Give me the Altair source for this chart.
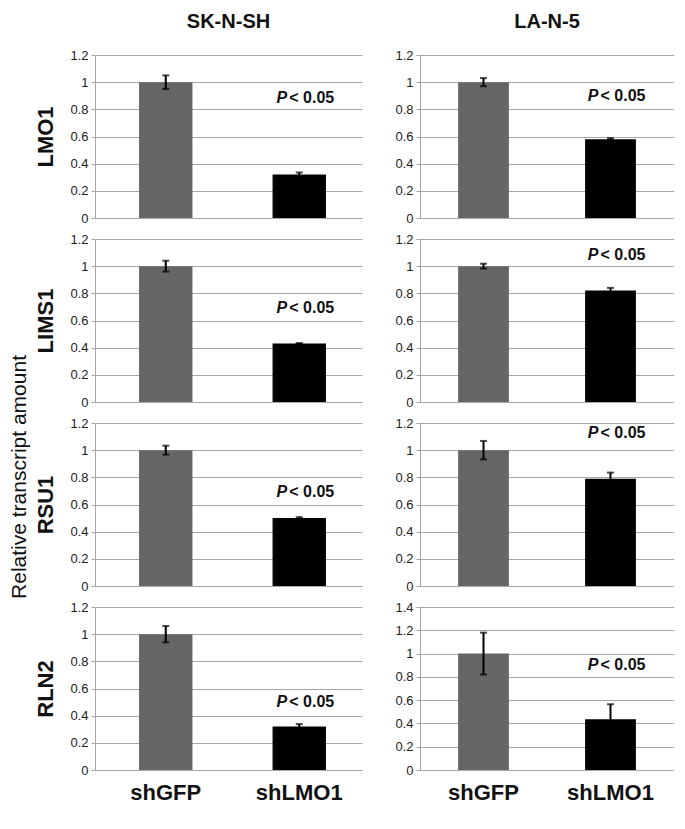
import altair as alt
import pandas as pd

# ---- data ----
genes = ["LMO1", "LIMS1", "RSU1", "RLN2"]
cell_lines = ["SK-N-SH", "LA-N-5"]
conditions = ["shGFP", "shLMO1"]

sk_gfp_mean = [1.0, 1.0, 1.0, 1.0]
sk_gfp_err = [0.05, 0.04, 0.033, 0.06]
sk_lmo_mean = [0.32, 0.43, 0.50, 0.32]
sk_lmo_err = [0.015, 0.004, 0.007, 0.018]

la_gfp_mean = [1.0, 1.0, 1.0, 1.0]
la_gfp_err = [0.03, 0.018, 0.068, 0.18]
la_lmo_mean = [0.58, 0.82, 0.79, 0.435]
la_lmo_err = [0.008, 0.02, 0.045, 0.13]

sk_p_y = [0.88, 0.69, 0.69, 0.50]
la_p_y = [0.90, 1.08, 1.13, 0.90]

sk_ymax = [1.2, 1.2, 1.2, 1.2]
la_ymax = [1.2, 1.2, 1.2, 1.4]

y_title = ["Relative transcript amount"]

series = {
    "SK-N-SH": (sk_gfp_mean, sk_gfp_err, sk_lmo_mean, sk_lmo_err, sk_p_y, sk_ymax),
    "LA-N-5": (la_gfp_mean, la_gfp_err, la_lmo_mean, la_lmo_err, la_p_y, la_ymax),
}

FONT = "Liberation Sans"
GRID = "#a6a6a6"
PLOT_H = 163
WIDTHS = {"SK-N-SH": 267, "LA-N-5": 254}
ALIGN = {"SK-N-SH": 0.55, "LA-N-5": 0.5}


def panel(r, cl):
    gm, ge, lm, le, py, ym = series[cl]
    df = pd.DataFrame({
        "condition": conditions,
        "mean": [gm[r], lm[r]],
        "err": [ge[r], le[r]],
    })
    df["lo"] = df["mean"] - df["err"]
    df["hi"] = df["mean"] + df["err"]
    ymax = ym[r]
    ticks = [round(i * 0.2, 1) for i in range(int(round(ymax / 0.2)) + 1)]
    last = r == len(genes) - 1

    if last:
        xaxis = alt.Axis(title=None, labelAngle=0, labelFontSize=22, labelFontWeight="bold",
                         labelColor="#111", labelPadding=12, ticks=False,
                         domainColor=GRID, labelFont=FONT)
    else:
        xaxis = alt.Axis(title=None, labels=False, ticks=False, domainColor=GRID)

    yaxis = alt.Axis(
        values=ticks, tickCount=len(ticks) + 2, labelOverlap=False, format="~g",
        grid=True, gridColor=GRID, domainColor=GRID,
        tickColor=GRID, tickSize=4, labelFontSize=13, labelColor="#222", labelPadding=3,
        labelFont=FONT,
        title=genes[r] if cl == "SK-N-SH" else None,
        titleFontSize=22, titleFontWeight="bold", titleColor="#111", titlePadding=12,
        titleFont=FONT,
    )
    xs = alt.Scale(domain=conditions, paddingInner=0.6, paddingOuter=0.3, align=ALIGN[cl])
    ysc = alt.Scale(domain=[0, ymax], nice=False)

    base = alt.Chart(df).encode(x=alt.X("condition:N", scale=xs, axis=xaxis, sort=conditions))
    bars = base.mark_bar().encode(
        y=alt.Y("mean:Q", scale=ysc, axis=yaxis),
        color=alt.Color("condition:N", scale=alt.Scale(domain=conditions, range=["#666666", "#000000"]),
                        legend=None),
    )
    rule = base.mark_rule(color="#000", strokeWidth=2).encode(y="lo:Q", y2="hi:Q")
    cap_hi = base.mark_tick(color="#000", size=7, thickness=2).encode(y="hi:Q")
    cap_lo = base.mark_tick(color="#000", size=7, thickness=2).encode(y="lo:Q")

    pdf = pd.DataFrame({"condition": ["shLMO1"], "py": [py[r]], "p": ["P"], "rest": ["< 0.05"]})
    pt = alt.Chart(pdf).encode(x=alt.X("condition:N"), y=alt.Y("py:Q"))
    p1 = pt.mark_text(fontStyle="italic", fontWeight="bold", fontSize=16, align="right",
                      dx=-12, font=FONT, color="#111").encode(text="p:N")
    p2 = pt.mark_text(fontWeight="bold", fontSize=16, align="left", dx=-10,
                      font=FONT, color="#111").encode(text="rest:N")

    ch = alt.layer(bars, rule, cap_hi, cap_lo, p1, p2).properties(width=WIDTHS[cl], height=PLOT_H)
    if r == 0:
        ch = ch.properties(title=alt.TitleParams(cl, fontSize=20, fontWeight="bold", font=FONT,
                                                 color="#111", offset=17, frame="group"))
    return ch


rows = [alt.hconcat(*[panel(r, cl) for cl in cell_lines], spacing=32) for r in range(len(genes))]
grid = alt.vconcat(*rows, spacing=8)

label = alt.Chart(pd.DataFrame({"t": y_title})).mark_text(
    angle=270, fontSize=21, font=FONT, color="#111", baseline="middle", align="center"
).encode(x=alt.value(12), y=alt.value(422), text="t:N").properties(width=20, height=20)

chart = alt.hconcat(label, grid, spacing=4).properties(
    padding={"left": 0, "top": 4, "right": 0, "bottom": 2},
).configure_view(stroke=None)

chart.save("out.html", embed_options={"renderer": "svg", "actions": False})
